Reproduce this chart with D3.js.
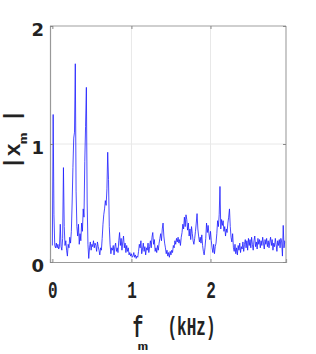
<!DOCTYPE html>
<html><head><meta charset="utf-8">
<script src="https://cdn.jsdelivr.net/npm/d3@7/dist/d3.min.js"></script>
<style>html,body{margin:0;padding:0;background:#fff;}svg{display:block;}</style>
</head><body>
<script>
const freqStep = 0.01; // kHz
const magnitude = [
0.14,1.25,0.40,0.14,0.12,0.16,0.12,0.15,0.11,0.13,
0.32,0.13,0.10,0.20,0.80,0.30,0.14,0.18,0.10,0.05,
0.15,0.12,0.21,0.16,0.26,0.50,0.80,1.05,1.10,1.68,
0.60,0.30,0.22,0.32,0.15,0.24,0.18,0.33,0.26,0.45,
0.38,0.85,1.15,1.48,0.50,0.15,0.03,0.12,0.17,0.10,
0.15,0.13,0.18,0.12,0.16,0.14,0.09,0.17,0.13,0.10,
0.06,0.12,0.10,0.20,0.32,0.40,0.45,0.52,0.48,0.62,
0.93,0.70,0.30,0.15,0.07,0.12,0.10,0.14,0.06,0.13,
0.16,0.09,0.12,0.08,0.18,0.25,0.14,0.20,0.10,0.17,
0.22,0.12,0.16,0.08,0.14,0.09,0.12,0.06,0.08,0.05,
0.07,0.04,0.05,0.08,0.04,0.06,0.03,0.05,0.04,0.09,
0.15,0.12,0.18,0.07,0.11,0.16,0.09,0.13,0.06,0.12,
0.10,0.16,0.08,0.13,0.18,0.12,0.21,0.25,0.15,0.19,
0.09,0.12,0.08,0.14,0.10,0.16,0.20,0.24,0.18,0.28,
0.33,0.22,0.16,0.12,0.07,0.10,0.05,0.08,0.04,0.09,
0.06,0.10,0.08,0.14,0.12,0.18,0.15,0.20,0.17,0.21,
0.16,0.19,0.14,0.21,0.25,0.32,0.28,0.38,0.30,0.40,
0.36,0.27,0.33,0.22,0.28,0.19,0.30,0.24,0.18,0.15,
0.20,0.26,0.33,0.41,0.28,0.22,0.17,0.21,0.16,0.23,
0.14,0.09,0.06,0.12,0.20,0.33,0.25,0.31,0.24,0.19,
0.26,0.18,0.12,0.08,0.15,0.07,0.13,0.16,0.24,0.35,
0.30,0.40,0.64,0.28,0.36,0.31,0.35,0.26,0.30,0.22,
0.28,0.25,0.33,0.38,0.45,0.30,0.21,0.17,0.24,0.12,
0.09,0.15,0.07,0.12,0.06,0.14,0.10,0.16,0.08,0.13,
0.11,0.17,0.09,0.15,0.19,0.12,0.18,0.10,0.20,0.14,
0.19,0.12,0.21,0.15,0.10,0.18,0.22,0.13,0.17,0.11,
0.20,0.15,0.19,0.12,0.18,0.14,0.21,0.16,0.11,0.19,
0.15,0.20,0.13,0.18,0.12,0.17,0.21,0.14,0.19,0.10,
0.16,0.13,0.20,0.15,0.09,0.18,0.14,0.19,0.12,0.20,
0.17,0.05,0.31,0.12,0.18,0.16
];
const xTicks = [0, 1, 2];
const yTicks = [0, 1, 2];
const xDomain = [-0.03, 2.955];
const yDomain = [0, 2];

const W = 316, H = 354;
const L = 50, R = 286, T = 26, B = 262;
const svg = d3.select("body").append("svg").attr("width", W).attr("height", H);

const x = d3.scaleLinear().domain(xDomain).range([L, R]);
const y = d3.scaleLinear().domain(yDomain).range([B, T]);

// grid
svg.append("g").selectAll("line").data(xTicks.slice(1)).join("line")
  .attr("x1", d => x(d)).attr("x2", d => x(d)).attr("y1", T).attr("y2", B)
  .attr("stroke", "#e8e8e8").attr("stroke-width", 1);
svg.append("g").selectAll("line").data(yTicks.slice(1, -1)).join("line")
  .attr("x1", L).attr("x2", R).attr("y1", d => y(d)).attr("y2", d => y(d))
  .attr("stroke", "#e8e8e8").attr("stroke-width", 1);

// data line
const data = magnitude.map((v, i) => [i * freqStep, v]);
svg.append("path").datum(data)
  .attr("fill", "none").attr("stroke", "#1c1cff").attr("stroke-width", 0.8)
  .attr("stroke-linejoin", "round")
  .attr("d", d3.line().x(d => x(d[0])).y(d => y(d[1])));

// frame
svg.append("line").attr("x1", L).attr("x2", R).attr("y1", T).attr("y2", T).attr("stroke", "#a0a0a0").attr("stroke-width", 1.2);
svg.append("line").attr("x1", R).attr("x2", R).attr("y1", T).attr("y2", B).attr("stroke", "#c4c4c4").attr("stroke-width", 1.8);

// axes
const xAxis = svg.append("g").attr("transform", `translate(0,${B})`)
  .call(d3.axisBottom(x).tickValues(xTicks).tickSize(-3).tickPadding(0).tickFormat(d3.format("d")));
xAxis.select(".domain").attr("stroke", "#999").attr("stroke-width", 1.2);
xAxis.selectAll(".tick line").attr("stroke", "#888");
xAxis.selectAll(".tick text").attr("font-family", "Liberation Mono, monospace").attr("font-weight", "bold")
  .attr("font-size", 16).attr("fill", "#222").attr("dy", 0).attr("y", 0)
  .attr("transform", "translate(0,36) scale(1,1.5)");

const xTop = svg.append("g").attr("transform", `translate(0,${T})`)
  .call(d3.axisTop(x).tickValues(xTicks).tickSize(-3).tickFormat(""));
xTop.select(".domain").remove();
xTop.selectAll(".tick line").attr("stroke", "#888");

const yAxis = svg.append("g").attr("transform", `translate(${L},0)`)
  .call(d3.axisLeft(y).tickValues(yTicks).tickSize(-3).tickPadding(6).tickFormat(d3.format("d")));
yAxis.select(".domain").attr("stroke", "#999").attr("stroke-width", 1.2);
yAxis.selectAll(".tick line").attr("stroke", "#888");
yAxis.selectAll(".tick text").attr("font-family", "DejaVu Sans, sans-serif").attr("font-weight", "bold")
  .attr("font-size", 18).attr("fill", "#222").attr("dy", "0.55em");

const yRight = svg.append("g").attr("transform", `translate(${R},0)`)
  .call(d3.axisRight(y).tickValues(yTicks).tickSize(-3).tickFormat(""));
yRight.select(".domain").remove();
yRight.selectAll(".tick line").attr("stroke", "#888");

const mono = "Liberation Mono, monospace";
function label(txt, tx, ty, size, tr) {
  return svg.append("text").attr("font-family", mono).attr("font-weight", "bold")
    .attr("fill", "#222").attr("font-size", size).attr("text-anchor", "middle")
    .attr("transform", `translate(${tx},${ty}) ${tr}`).text(txt);
}
// x label
label("f", 138, 337, 18, "scale(1,1.6)");
label("m", 143, 350, 15, "scale(1.15,0.75)");
label("(kHz)", 191.5, 335, 16, "scale(1,1.6)");

// y label
label("|", 19, 163, 22, "rotate(-90)");
label("x", 20, 150, 22, "rotate(-90)");
label("m", 27, 138.5, 15, "rotate(-90) scale(1.3,0.75)");
label("|", 19, 116, 22, "rotate(-90)");
</script>
</body></html>
